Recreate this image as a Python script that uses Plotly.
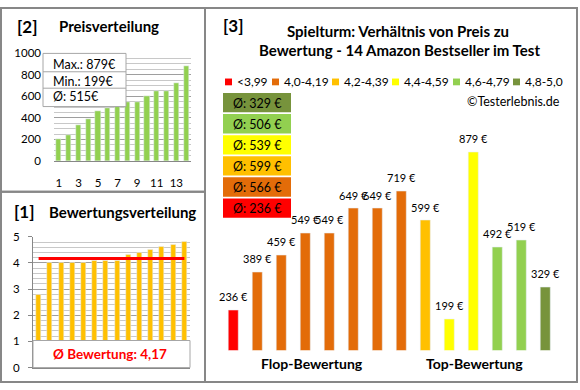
import plotly.graph_objects as go

# ---------------- data ----------------
# Products in the order of chart [3] (sorted by rating, then as shown)
product_prices = [236, 389, 459, 549, 549, 649, 649, 719, 599, 199, 879, 492, 519, 329]
product_ratings = [2.8, 4.0, 4.0, 4.0, 4.0, 4.1, 4.1, 4.1, 4.3, 4.4, 4.5, 4.6, 4.7, 4.8]

class_labels = ["<3,99", "4,0-4,19", "4,2-4,39", "4,4-4,59", "4,6-4,79", "4,8-5,0"]
class_lower = [0.0, 4.0, 4.2, 4.4, 4.6, 4.8]
class_colors = ["#FF0000", "#E36C09", "#FFC000", "#FFFF00", "#92D050", "#77933C"]

price_sorted = sorted(product_prices)
rating_sorted = sorted(product_ratings)
positions = list(range(1, len(product_prices) + 1))

FONT = "Lato"
GRAY = "#878787"
W, H = 580, 390


def px(x):
    return x / W


def py(y):
    return 1 - y / H


def rating_class(r):
    idx = 0
    for i, lo in enumerate(class_lower):
        if r >= lo - 1e-9:
            idx = i
    return idx


product_class = [rating_class(r) for r in product_ratings]
bar_colors = [class_colors[c] for c in product_class]

avg_price = sum(product_prices) / len(product_prices)
avg_rating = sum(product_ratings) / len(product_ratings)
class_avgs = []
for ci in range(len(class_labels)):
    vals = [p for p, c in zip(product_prices, product_class) if c == ci]
    class_avgs.append(round(sum(vals) / len(vals)) if vals else 0)

fig = go.Figure()

# ---------- panel [2] Preisverteilung ----------
fig.add_trace(go.Bar(x=positions, y=price_sorted, marker_color="#92D050", width=0.52,
                     xaxis="x2", yaxis="y2", showlegend=False, hoverinfo="skip"))

# ---------- panel [1] Bewertungsverteilung ----------
fig.add_trace(go.Bar(x=positions, y=rating_sorted, marker_color="#FFC000", width=0.45,
                     xaxis="x", yaxis="y", showlegend=False, hoverinfo="skip"))
fig.add_trace(go.Scatter(x=[positions[0], positions[-1]], y=[avg_rating, avg_rating],
                         mode="lines", line=dict(color="#FF0000", width=3),
                         xaxis="x", yaxis="y", showlegend=False, hoverinfo="skip"))

# ---------- panel [3] ----------
fig.add_trace(go.Bar(x=positions, y=product_prices, marker_color=bar_colors, width=0.4,
                     xaxis="x3", yaxis="y3", showlegend=False, hoverinfo="skip"))

annotations = []
shapes = []

for x, v in zip(positions, product_prices):
    annotations.append(dict(x=x, y=v, xref="x3", yref="y3", text=f"{v} €",
                            showarrow=False, yanchor="bottom", yshift=5,
                            font=dict(family=FONT, size=11, color="#000")))

# frames
for (x0, y0, x1, y1) in [(1, 1, 205, 191), (1, 191, 205, 388), (205, 1, 577, 388)]:
    shapes.append(dict(type="rect", xref="paper", yref="paper",
                       x0=px(x0), x1=px(x1), y0=py(y1), y1=py(y0),
                       line=dict(color=GRAY, width=2), layer="above"))

# titles
def txt(x, y, s, size=13, bold=False, color="#000", xanchor="center"):
    annotations.append(dict(x=px(x), y=py(y), xref="paper", yref="paper",
                            text=f"<b>{s}</b>" if bold else s, showarrow=False,
                            xanchor=xanchor, yanchor="middle",
                            font=dict(family=FONT, size=size, color=color)))

txt(27, 20, "[2]", 17, True)
txt(57, 20, "Preisverteilung", 15, True, xanchor="left")
txt(24, 212, "[1]", 17, True)
txt(47, 212, "Bewertungsverteilung", 15, True, xanchor="left")
txt(233, 19, "[3]", 17, True)
txt(398, 25, "Spielturm: Verhältnis von Preis zu", 15, True)
txt(399, 44, "Bewertung - 14 Amazon Bestseller im Test", 15, True)
txt(562, 98, "©Testerlebnis.de", 12.5, xanchor="right")
txt(312, 369, "Flop-Bewertung", 14, True)
txt(474, 369, "Top-Bewertung", 14, True)

# legend row of panel [3]
leg_x = [225, 272, 332, 392, 453, 513]
for lx, lab, col in zip(leg_x, class_labels, class_colors):
    shapes.append(dict(type="rect", xref="paper", yref="paper",
                       x0=px(lx), x1=px(lx + 7), y0=py(81), y1=py(74),
                       fillcolor=col, line=dict(width=0)))
    txt(lx + 10, 77.5, lab, 12, xanchor="left")

# class-average boxes (top: best class)
box_top = 89
for k, ci in enumerate(reversed(range(len(class_labels)))):
    y0 = box_top + k * 21.8
    shapes.append(dict(type="rect", xref="paper", yref="paper",
                       x0=px(223), x1=px(291), y0=py(y0 + 20), y1=py(y0),
                       fillcolor=class_colors[ci], line=dict(width=0), layer="above"))
    txt(257, y0 + 10.5, f"Ø: {class_avgs[ci]} €", 12.5)

# panel [2] stats box
shapes.append(dict(type="rect", xref="paper", yref="paper",
                   x0=px(43), x1=px(126), y0=py(103), y1=py(48),
                   fillcolor="white", line=dict(color="#A6A6A6", width=1), layer="above"))
for yy in (67, 84):
    shapes.append(dict(type="line", xref="paper", yref="paper",
                       x0=px(43), x1=px(126), y0=py(yy), y1=py(yy),
                       line=dict(color="#A6A6A6", width=1), layer="above"))
txt(51, 59, f"Max.: {max(price_sorted)}€", 12.5, xanchor="left")
txt(51, 77, f"Min.: {min(price_sorted)}€", 12.5, xanchor="left")
txt(51, 93, f"Ø: {round(avg_price)}€", 12.5, xanchor="left")

# panel [1] average box
shapes.append(dict(type="rect", xref="paper", yref="paper",
                   x0=px(33), x1=px(190), y0=py(373), y1=py(345),
                   fillcolor="white", line=dict(color="#A6A6A6", width=1), layer="above"))
avg_txt = f"{avg_rating:.2f}".replace(".", ",")
txt(110, 359, f"Ø Bewertung: {avg_txt}", 13.5, True, color="#FF0000")

tickfont = dict(family=FONT, size=11.5, color="#000")

fig.update_layout(
    width=W, height=H,
    margin=dict(l=0, r=0, t=0, b=0),
    paper_bgcolor="white", plot_bgcolor="white",
    bargap=0,
    shapes=shapes, annotations=annotations,
    # panel 1
    xaxis=dict(domain=[px(33), px(190)], range=[0.5, 14.5], showticklabels=False,
               showgrid=False, zeroline=False, showline=True, linecolor=GRAY, linewidth=1,
               ticks="", fixedrange=True),
    yaxis=dict(domain=[py(373), py(237.7)], range=[0, 5], dtick=1, tickfont=tickfont,
               showgrid=True, gridcolor="#9E9E9E", gridwidth=1, zeroline=False,
               showline=True, linecolor=GRAY, linewidth=1, ticks="outside", ticklen=4,
               tickcolor=GRAY, ticklabelstandoff=6,
               minor=dict(dtick=0.2, showgrid=True, gridcolor="#C8C8C8", gridwidth=1)),
    # panel 2
    xaxis2=dict(domain=[px(54), px(191)], range=[0.5, 14.5], tick0=1, dtick=2,
                tickfont=tickfont, showgrid=False, zeroline=False, showline=True,
                linecolor=GRAY, linewidth=1, ticks="", ticklabelstandoff=11,
                anchor="y2"),
    yaxis2=dict(domain=[py(159.3), py(47.7)], range=[0, 1000], dtick=200, tickfont=tickfont,
                showgrid=True, gridcolor="#9E9E9E", gridwidth=1, zeroline=False,
                showline=False, ticks="", ticklabelstandoff=12, anchor="x2",
                minor=dict(dtick=50, showgrid=True, gridcolor="#C8C8C8", gridwidth=1)),
    # panel 3
    xaxis3=dict(domain=[px(221.5), px(557.5)], range=[0.5, 14.5], visible=False, anchor="y3"),
    yaxis3=dict(domain=[py(355), py(119.3)], range=[72, 1000], visible=False, anchor="x3"),
)

fig.write_html("out.html", config={"displayModeBar": False},
               post_script="document.body.style.margin='0px';document.body.style.overflow='hidden';")
